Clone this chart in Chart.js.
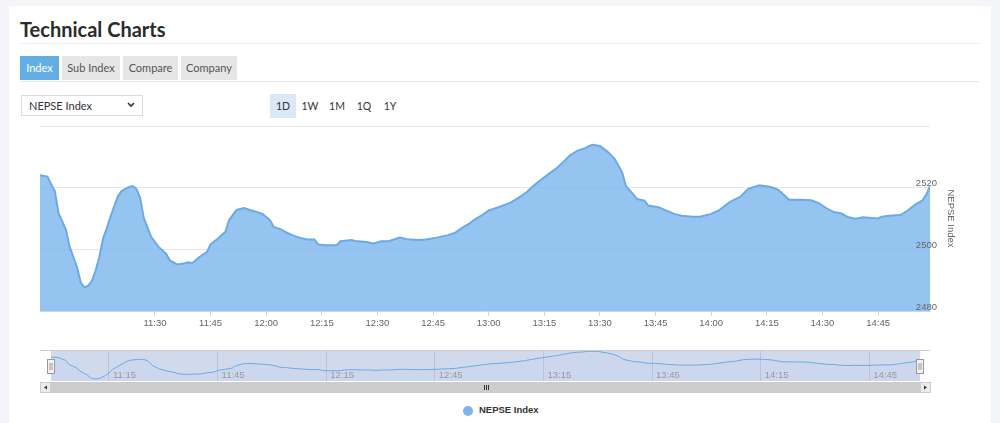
<!DOCTYPE html>
<html>
<head>
<meta charset="utf-8">
<script src="https://cdn.jsdelivr.net/npm/chart.js@4.4.1/dist/chart.umd.min.js"></script>
<style>
  body { margin: 0; width: 1000px; height: 423px; overflow: hidden; position: relative; background: #f4f5f9; font-family: Lato, "Noto Sans", sans-serif; }
  .card { position: absolute; left: 9px; top: 6px; width: 982px; height: 430px; background: #fff; }
  h1 { position: absolute; left: 20px; top: 16px; margin: 0; font-size: 20px; line-height: 26px; font-weight: 700; color: #2b2b2b; }
  .rule { position: absolute; left: 20px; width: 960px; height: 1px; background: #eeeeee; }
  .tab { position: absolute; top: 56px; height: 24px; line-height: 24px; text-align: center; font-size: 11px; color: #555; background: #e6e6e6; }
  .tab.on { background: #64aee6; color: #fff; }
  .select { position: absolute; left: 21px; top: 95px; width: 120px; height: 19px; border: 1px solid #dcdcdc; font-size: 11px; line-height: 19px; color: #333; }
  .select span { position: absolute; left: 7px; }
  .select svg { position: absolute; right: 7px; top: 6px; }
  .rng { position: absolute; top: 94px; width: 26px; height: 24px; line-height: 24px; text-align: center; font-size: 10.5px; color: #333; }
  .rng.on { background: #dce8f6; }
  canvas { position: absolute; }
  .legend { position: absolute; left: 463px; top: 404px; height: 14px; line-height: 14px; font: bold 9.5px "Liberation Sans", sans-serif; color: #333; }
  .legend i { position: absolute; left: 0; top: 2px; width: 10px; height: 10px; border-radius: 50%; background: #7cb5ec; }
  .legend span { position: absolute; left: 16px; white-space: nowrap; }
</style>
</head>
<body>
<div class="card"></div>
<h1>Technical Charts</h1>
<div class="rule" style="top:43px"></div>
<div class="tab on" style="left:20px;width:39px">Index</div>
<div class="tab" style="left:62px;width:58px">Sub Index</div>
<div class="tab" style="left:123px;width:55px">Compare</div>
<div class="tab" style="left:181px;width:56px">Company</div>
<div class="rule" style="top:81px;background:#e6e9ee"></div>
<div class="select"><span>NEPSE Index</span>
  <svg width="8" height="6" viewBox="0 0 8 6"><path d="M1 1 L4 4 L7 1" fill="none" stroke="#333" stroke-width="1.6"/></svg>
</div>
<div class="rng on" style="left:270px">1D</div>
<div class="rng" style="left:297px">1W</div>
<div class="rng" style="left:324px">1M</div>
<div class="rng" style="left:351px">1Q</div>
<div class="rng" style="left:377px">1Y</div>

<canvas id="main" width="956" height="216" style="left:0;top:120px"></canvas>
<canvas id="nav" width="1000" height="60" style="left:0;top:340px"></canvas>
<div class="legend"><i></i><span>NEPSE Index</span></div>

<script>
const seriesName = 'NEPSE Index'

// 時刻と指数値（チャートから読み取り）
const times = [
  '10:59', '11:01', '11:02', '11:03', '11:04', '11:06', '11:07', '11:09', '11:10', '11:11',
  '11:12', '11:13', '11:14', '11:15', '11:16', '11:17', '11:18', '11:19', '11:20', '11:21',
  '11:23', '11:24', '11:25', '11:26', '11:27', '11:29', '11:31', '11:33', '11:34', '11:36',
  '11:38', '11:39', '11:40', '11:42', '11:44', '11:45', '11:47', '11:49', '11:50', '11:52',
  '11:54', '11:56', '11:57', '11:59', '12:01', '12:02', '12:04', '12:05', '12:07', '12:09',
  '12:11', '12:13', '12:14', '12:16', '12:19', '12:20', '12:23', '12:24', '12:27', '12:29',
  '12:31', '12:33', '12:36', '12:38', '12:41', '12:43', '12:46', '12:49', '12:51', '12:53',
  '12:55', '12:56', '12:58', '13:00', '13:03', '13:06', '13:08', '13:10', '13:12', '13:14',
  '13:16', '13:18', '13:20', '13:22', '13:24', '13:26', '13:27', '13:28', '13:30', '13:32',
  '13:34', '13:36', '13:37', '13:39', '13:40', '13:42', '13:43', '13:46', '13:48', '13:50',
  '13:52', '13:55', '13:57', '14:00', '14:02', '14:05', '14:08', '14:10', '14:13', '14:16',
  '14:18', '14:20', '14:21', '14:24', '14:27', '14:29', '14:31', '14:33', '14:35', '14:37',
  '14:39', '14:41', '14:45', '14:46', '14:48', '14:51', '14:53', '14:55', '14:57', '14:58',
  '14:59'
]
const values = [
  2524.0, 2523.6, 2521.1, 2518.9, 2511.7, 2506.3, 2500.8, 2494.2, 2489.2, 2487.6,
  2488.2, 2489.8, 2493.1, 2497.5, 2503.5, 2506.8, 2510.6, 2513.9, 2517.2, 2518.9,
  2520.2, 2520.5, 2519.6, 2516.7, 2510.1, 2504.0, 2500.8, 2498.6, 2496.4, 2495.1,
  2495.5, 2495.8, 2495.5, 2497.5, 2499.1, 2501.6, 2503.5, 2505.7, 2509.5, 2512.8,
  2513.4, 2512.6, 2512.3, 2511.5, 2509.5, 2507.3, 2506.5, 2505.7, 2504.6, 2503.8,
  2503.2, 2503.2, 2501.6, 2501.3, 2501.3, 2502.6, 2503.0, 2502.7, 2502.4, 2501.9,
  2502.6, 2502.6, 2503.8, 2503.3, 2503.0, 2503.2, 2503.8, 2504.6, 2505.4, 2507.1,
  2508.5, 2509.5, 2510.9, 2512.6, 2513.8, 2515.2, 2516.7, 2518.3, 2520.5, 2522.5,
  2524.3, 2526.0, 2528.2, 2530.6, 2532.0, 2532.8, 2533.5, 2533.9, 2533.5, 2531.7,
  2529.3, 2524.9, 2520.5, 2517.8, 2516.3, 2515.8, 2514.2, 2513.6, 2512.5, 2511.5,
  2510.9, 2510.6, 2510.6, 2511.5, 2512.6, 2515.3, 2517.2, 2519.6, 2520.8, 2520.2,
  2519.4, 2517.2, 2516.1, 2516.1, 2515.9, 2515.0, 2513.4, 2512.1, 2511.7, 2510.4,
  2509.9, 2510.4, 2510.0, 2510.6, 2510.9, 2511.1, 2512.6, 2514.5, 2515.9, 2517.8,
  2520.5
]

// 軸の目盛り
const mainTicks = ['11:30', '11:45', '12:00', '12:15', '12:30', '12:45', '13:00', '13:15',
  '13:30', '13:45', '14:00', '14:15', '14:30', '14:45']
const navTicks = ['11:15', '11:45', '12:15', '12:45', '13:15', '13:45', '14:15', '14:45']
const yTicks = [2480, 2500, 2520, 2540]
const navRange = [2484, 2536]

const toMin = t => { const [h, m] = t.split(':').map(Number); return h * 60 + m }
const fmt = v => String(Math.floor(v / 60)).padStart(2, '0') + ':' + String(v % 60).padStart(2, '0')
const points = times.map((t, i) => ({ x: toMin(t), y: values[i] }))
const xMin = toMin(times[0])
const xMax = toMin(times[times.length - 1])
const axisFont = { family: "'Liberation Sans', Arial, sans-serif", size: 9.5 }

new Chart(document.getElementById('main'), {
  type: 'line',
  data: {
    datasets: [{
      label: seriesName,
      data: points,
      borderColor: '#6aaae6',
      borderWidth: 2,
      backgroundColor: 'rgba(124, 181, 236, 0.8)',
      fill: 'start',
      pointRadius: 0,
      tension: 0
    }]
  },
  options: {
    responsive: false,
    animation: false,
    layout: { padding: { left: 40, top: 6 } },
    plugins: { legend: { display: false }, tooltip: { enabled: false } },
    scales: {
      x: {
        type: 'linear',
        min: xMin,
        max: xMax,
        afterBuildTicks: s => { s.ticks = mainTicks.map(t => ({ value: toMin(t) })) },
        afterFit: s => { s.height = 25; s.paddingLeft = 0; s.paddingRight = 0 },
        grid: { drawOnChartArea: false, tickLength: 5, color: '#ccd6eb' },
        border: { color: '#ccd6eb' },
        ticks: { autoSkip: false, maxRotation: 0, padding: 2, color: '#666', font: axisFont, callback: v => fmt(v) }
      },
      y: {
        position: 'right',
        min: yTicks[0],
        max: yTicks[yTicks.length - 1],
        afterBuildTicks: s => { s.ticks = yTicks.map(v => ({ value: v })) },
        afterFit: s => { s.width = 26; s.paddingTop = 0; s.paddingBottom = 0 },
        grid: { color: '#e6e6e6', drawTicks: false },
        border: { display: false },
        ticks: {
          mirror: true,
          padding: 7,
          labelOffset: -4,
          z: 1,
          color: '#666',
          font: axisFont,
          callback: v => v === yTicks[yTicks.length - 1] ? '' : v
        },
        title: { display: true, text: seriesName, color: '#666', font: axisFont, padding: 0 }
      }
    }
  }
})

// ナビゲーター（マスク・ハンドル・スクロールバー）
const navigatorDecor = {
  id: 'navigatorDecor',
  beforeDatasetsDraw(chart) {
    const { ctx, chartArea: a } = chart
    ctx.save()
    ctx.fillStyle = 'rgba(102, 133, 194, 0.3)'
    ctx.fillRect(a.left, a.top, a.right - a.left, a.bottom - a.top)
    ctx.restore()
  },
  afterDraw(chart) {
    const { ctx, chartArea: a, scales } = chart
    ctx.save()

    ctx.font = "9.5px 'Liberation Sans', Arial, sans-serif"
    ctx.fillStyle = '#999'
    ctx.textBaseline = 'middle'
    navTicks.forEach(t => ctx.fillText(t, scales.x.getPixelForValue(toMin(t)) + 4, a.bottom - 6))

    ctx.strokeStyle = '#cccccc'
    ctx.lineWidth = 1
    ctx.beginPath()
    ctx.moveTo(a.left - 11, a.top + 0.5)
    ctx.lineTo(a.right + 10, a.top + 0.5)
    ctx.stroke()

    // スクロールバー
    const sy = a.bottom + 1
    const sh = 11
    ctx.fillStyle = '#f2f2f2'
    ctx.fillRect(a.left - 11, sy, a.right - a.left + 21, sh)
    ctx.fillStyle = '#cccccc'
    ctx.fillRect(a.left, sy, a.right - a.left, sh)
    ;[a.left - 11, a.right].forEach((bx, i) => {
      ctx.fillStyle = '#ebebeb'
      ctx.fillRect(bx, sy, 11, sh)
      ctx.strokeStyle = '#cccccc'
      ctx.strokeRect(bx + 0.5, sy + 0.5, 10, sh - 1)
      ctx.fillStyle = '#333'
      ctx.beginPath()
      const cx = bx + 5.5, cy = sy + sh / 2
      if (i === 0) { ctx.moveTo(cx + 1.5, cy - 2); ctx.lineTo(cx - 1.5, cy); ctx.lineTo(cx + 1.5, cy + 2) }
      else { ctx.moveTo(cx - 1.5, cy - 2); ctx.lineTo(cx + 1.5, cy); ctx.lineTo(cx - 1.5, cy + 2) }
      ctx.fill()
    })
    const gx = Math.round((a.left + a.right) / 2)
    ctx.strokeStyle = '#333'
    ctx.beginPath()
    for (let k = -2; k <= 2; k += 2) {
      ctx.moveTo(gx + k + 0.5, sy + 3)
      ctx.lineTo(gx + k + 0.5, sy + sh - 3)
    }
    ctx.stroke()

    // ハンドル
    const hy = Math.round((a.top + a.bottom) / 2) - 7
    ;[a.left, a.right].forEach(hx => {
      const x0 = Math.round(hx) - 3.5
      ctx.fillStyle = '#f2f2f2'
      ctx.fillRect(x0, hy, 7, 14)
      ctx.strokeStyle = '#999'
      ctx.strokeRect(x0, hy + 0.5, 7, 14)
      ctx.beginPath()
      ctx.moveTo(x0 + 2.5, hy + 4); ctx.lineTo(x0 + 2.5, hy + 11)
      ctx.moveTo(x0 + 4.5, hy + 4); ctx.lineTo(x0 + 4.5, hy + 11)
      ctx.stroke()
    })
    ctx.restore()
  }
}

new Chart(document.getElementById('nav'), {
  type: 'line',
  data: {
    datasets: [{
      label: seriesName,
      data: points,
      borderColor: '#6aaae6',
      borderWidth: 1,
      backgroundColor: 'rgba(124, 181, 236, 0.05)',
      fill: 'start',
      pointRadius: 0,
      tension: 0
    }]
  },
  options: {
    responsive: false,
    animation: false,
    layout: { padding: { left: 51, right: 80, top: 10, bottom: 19 } },
    plugins: { legend: { display: false }, tooltip: { enabled: false } },
    scales: {
      x: {
        type: 'linear',
        min: xMin,
        max: xMax,
        afterBuildTicks: s => { s.ticks = navTicks.map(t => ({ value: toMin(t) })) },
        afterFit: s => { s.height = 0 },
        grid: { color: '#e0e0e0', drawTicks: false },
        border: { display: false },
        ticks: { display: false }
      },
      y: { display: false, min: navRange[0], max: navRange[1] }
    }
  },
  plugins: [navigatorDecor]
})
</script>
</body>
</html>
